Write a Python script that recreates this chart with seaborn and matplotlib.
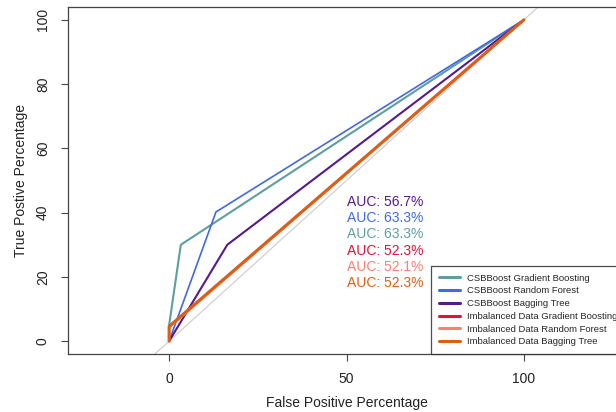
import numpy as np
import pandas as pd
import seaborn as sns
import matplotlib.pyplot as plt

# ROC points (percent)
labels = ['CSBBoost Gradient Boosting', 'CSBBoost Random Forest', 'CSBBoost Bagging Tree',
          'Imbalanced Data Gradient Boosting', 'Imbalanced Data Random Forest',
          'Imbalanced Data Bagging Tree']
fpr_csb_gb = [0, 0, 3.3, 100]
tpr_csb_gb = [0, 5, 30, 100]
fpr_csb_rf = [0, 13.2, 100]
tpr_csb_rf = [0, 40.2, 100]
fpr_csb_bt = [0, 16.4, 100]
tpr_csb_bt = [0, 30, 100]
fpr_imb_gb = [0, 0, 100]
tpr_imb_gb = [0, 4.6, 100]
fpr_imb_rf = [0, 0, 100]
tpr_imb_rf = [0, 4.2, 100]
fpr_imb_bt = [0, 0, 100]
tpr_imb_bt = [0, 4.6, 100]

# AUC labels, in the order they are stacked on the plot
auc_text = ['AUC: 56.7%', 'AUC: 63.3%', 'AUC: 63.3%', 'AUC: 52.3%', 'AUC: 52.1%', 'AUC: 52.3%']
auc_y = [43.3, 38.3, 33.2, 28.2, 23.2, 18.1]

colors = ['#5F9EA0', '#4169E1', '#551A8B', '#DC143C', '#FA8072', '#DD5F16']
auc_colors = ['#551A8B', '#4169E1', '#5F9EA0', '#DC143C', '#FA8072', '#DD5F16']
widths = [1.5, 1.2, 1.5, 1.5, 1.5, 2.2]

sns.set_style('white')
plt.rcParams['font.family'] = ['Liberation Sans', 'DejaVu Sans']

fig = plt.figure(figsize=(6.16, 4.12), dpi=100)
ax = fig.add_axes([68 / 616, 58 / 412, (625 - 68) / 616, (354 - 7) / 412])

# reference diagonal
ax.axline((0, 0), (1, 1), color='#cccccc', lw=0.8, zorder=1)

series = [(fpr_csb_gb, tpr_csb_gb), (fpr_csb_rf, tpr_csb_rf), (fpr_csb_bt, tpr_csb_bt),
          (fpr_imb_gb, tpr_imb_gb), (fpr_imb_rf, tpr_imb_rf), (fpr_imb_bt, tpr_imb_bt)]
for (fx, ty), lab, col, lw in zip(series, labels, colors, widths):
    df = pd.DataFrame({'fpr': fx, 'tpr': ty})
    sns.lineplot(data=df, x='fpr', y='tpr', estimator=None, sort=False,
                 color=col, lw=lw, label=lab, ax=ax)

for txt, yy, col in zip(auc_text, auc_y, auc_colors):
    ax.text(50, yy, txt, color=col, fontsize=10, ha='left', va='center')

ax.set_xlim(-28.5, 128.5)
ax.set_ylim(-4, 104)
ax.set_xticks([0, 50, 100])
ax.set_yticks([0, 20, 40, 60, 80, 100])
ax.set_xlabel('False Positive Percentage', fontsize=10, color='#222222', labelpad=7)
ax.set_ylabel('True Postive Percentage', fontsize=10, color='#222222', labelpad=6)
ax.tick_params(axis='both', direction='out', length=5, width=0.8, color='#444444',
               labelsize=10, labelcolor='#222222', bottom=True, left=True, pad=8)
for lbl in ax.get_yticklabels():
    lbl.set_rotation(90)
    lbl.set_va('center')
for sp in ax.spines.values():
    sp.set_color('#444444')
    sp.set_linewidth(0.9)

leg = ax.legend(loc='lower right', fontsize=6.8, frameon=True, fancybox=False,
                borderaxespad=0, handlelength=2.2, handletextpad=0.8,
                labelspacing=0.4, borderpad=0.8)
leg.get_frame().set_edgecolor('#222222')
leg.get_frame().set_linewidth(0.9)
for h in leg.get_lines():
    h.set_linewidth(2.2)

fig.savefig('out.png', dpi=100)
